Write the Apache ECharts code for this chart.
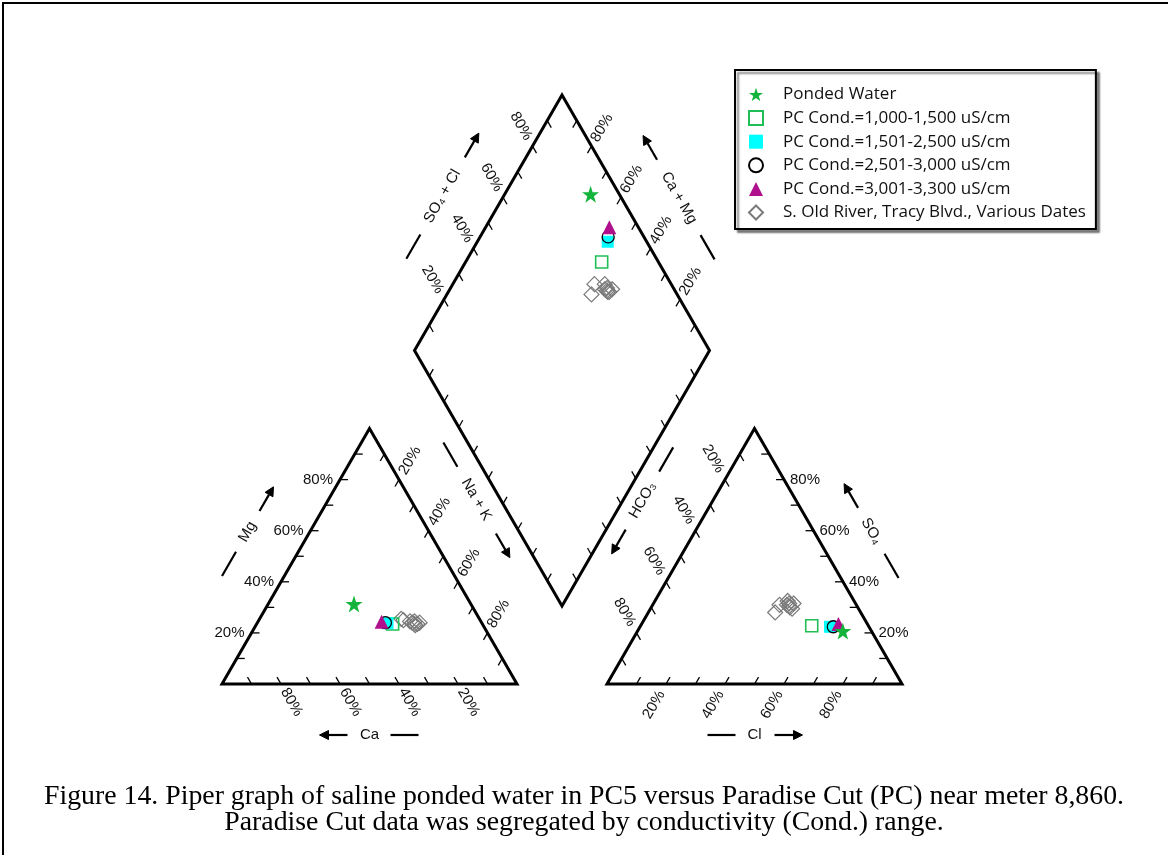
<!DOCTYPE html>
<html>
<head>
<meta charset="utf-8">
<title>Piper graph</title>
<script src="https://cdn.jsdelivr.net/npm/echarts@6/dist/echarts.min.js"></script>
<style>
  html, body { margin: 0; padding: 0; background: #fff; }
  #chart { width: 1168px; height: 855px; }
</style>
</head>
<body>
<div id="chart"></div>
<script>
// ---- Data: each row is one sample, % meq/L
// [Ca, Mg, Na+K,  HCO3, SO4, Cl]
const pondedWater = [
  [39.6, 31.3, 29.1, 9.7, 20.7, 69.6]
];
const pcCond1000to1500 = [
  [30.4, 23.5, 46.1, 19.2, 22.8, 58.0]
];
const pcCond1501to2500 = [
  [32.0, 23.8, 44.2, 13.2, 22.4, 64.4]
];
const pcCond2501to3000 = [
  [32.6, 24.0, 43.4, 12.1, 22.4, 65.5]
];
const pcCond3001to3300 = [
  [33.7, 24.4, 41.9, 9.8, 23.5, 66.7]
];
const oldRiverTracy = [
  [23.5, 24.0, 52.5, 23.5, 31.0, 45.5],
  [22.5, 24.5, 53.0, 22.5, 31.5, 46.0],
  [23.0, 23.5, 53.5, 23.0, 30.5, 46.5],
  [23.0, 23.0, 54.0, 23.0, 30.0, 47.0],
  [26.0, 25.0, 49.0, 29.0, 28.0, 43.0],
  [26.5, 25.5, 48.0, 26.0, 31.0, 43.0],
  [21.0, 24.0, 55.0, 21.0, 31.5, 47.5],
  [22.0, 23.5, 54.5, 22.5, 29.5, 48.0],
  [24.0, 24.5, 51.5, 22.5, 32.5, 45.0]
];
const seriesNames = [
  'Ponded Water',
  'PC Cond.=1,000-1,500 uS/cm',
  'PC Cond.=1,501-2,500 uS/cm',
  'PC Cond.=2,501-3,000 uS/cm',
  'PC Cond.=3,001-3,300 uS/cm',
  'S. Old River, Tracy Blvd., Various Dates'
];
const tickValues = [20, 40, 60, 80];
const tickLabels = ['20%', '40%', '60%', '80%'];
const captionLines = [
  'Figure 14. Piper graph of saline ponded water in PC5 versus Paradise Cut (PC) near meter 8,860.',
  'Paradise Cut data was segregated by conductivity (Cond.) range.'
];

// ---- Piper layout (plot units = pixels on hidden 1:1 axes)
const SIDE = 295;
const S3 = Math.sqrt(3) / 2;
const HGT = SIDE * S3;
const CAT = [222, 684];            // Ca corner of cation triangle
const AN = [607, 684];             // HCO3 corner of anion triangle
const GAP = AN[0] - CAT[0] - SIDE;
const DB = [CAT[0] + SIDE + GAP / 2, CAT[1] - GAP * S3]; // diamond bottom corner

const cA = CAT, cB = [CAT[0] + SIDE, CAT[1]], cC = [CAT[0] + SIDE / 2, CAT[1] - HGT];
const aD = AN, aE = [AN[0] + SIDE, AN[1]], aF = [AN[0] + SIDE / 2, AN[1] - HGT];
const dBm = DB, dL = [DB[0] - SIDE / 2, DB[1] - HGT], dR = [DB[0] + SIDE / 2, DB[1] - HGT], dT = [DB[0], DB[1] - 2 * HGT];

const UR = [0.5, -S3], UL = [-0.5, -S3], DR = [0.5, S3], DL = [-0.5, S3];

function lerp(p, q, t) { return [p[0] + (q[0] - p[0]) * t, p[1] + (q[1] - p[1]) * t]; }

function cationPt(r) {
  const s = r[0] + r[1] + r[2];
  return [CAT[0] + (r[2] + r[1] / 2) / s * SIDE, CAT[1] - r[1] / s * HGT];
}
function anionPt(r) {
  const s = r[3] + r[4] + r[5];
  return [AN[0] + (r[5] + r[4] / 2) / s * SIDE, AN[1] - r[4] / s * HGT];
}
function diamondPt(r) {
  const c = (r[0] + r[1]) / (r[0] + r[1] + r[2]);   // Ca+Mg fraction
  const a = (r[4] + r[5]) / (r[3] + r[4] + r[5]);   // SO4+Cl fraction
  return [DB[0] + (a - c) * SIDE / 2, DB[1] - (a + c) * HGT];
}
function project(rows) {
  const out = [];
  rows.forEach(r => { out.push(cationPt(r)); out.push(anionPt(r)); out.push(diamondPt(r)); });
  return out;
}

// Edge scales: 0% at "from", 100% at "to"; ticks drawn inward along grid direction
const edges = [
  { from: cA, to: cC, tick: [1, 0], label: { h: 'right', off: 7 } },             // Mg
  { from: cB, to: cA, tick: UL, label: { out: DR, dist: 21, rot: -60 } },        // Ca
  { from: cC, to: cB, tick: DL, label: { out: UR, dist: 22, rot: 60 } },         // Na+K
  { from: aF, to: aD, tick: DR, label: { out: UL, dist: 24, rot: -60 } },        // HCO3
  { from: aD, to: aE, tick: UR, label: { out: DL, dist: 24, rot: 60 } },         // Cl
  { from: aE, to: aF, tick: [-1, 0], label: { h: 'left', off: 6 } },             // SO4
  { from: dL, to: dT, tick: DR, label: { out: UL, dist: 23, rot: -60 } },        // SO4+Cl
  { from: dR, to: dT, tick: DL, label: { out: UR, dist: 21, rot: 60 } },         // Ca+Mg
  { from: dL, to: dBm, tick: UR },
  { from: dR, to: dBm, tick: UL }
];

const axisTitles = [
  { text: 'Mg', base: lerp(cA, cC, 0.49), n: [-S3, -0.5], dist: 54, d: UR, rot: 60, reach: 37 },
  { text: 'Ca', base: lerp(cA, cB, 0.5), n: [0, 1], dist: 51, d: [-1, 0], rot: 0, reach: 35 },
  { text: 'Na + K', base: lerp(cC, cB, 0.39), n: [S3, -0.5], dist: 57, d: DR, rot: -60, reach: 52 },
  { text: 'HCO\u2083', base: lerp(aF, aD, 0.4), n: [-S3, -0.5], dist: 61, d: DL, rot: 60, reach: 47 },
  { text: 'SO\u2084', base: lerp(aE, aF, 0.5), n: [S3, -0.5], dist: 50, d: UL, rot: -60, reach: 40 },
  { text: 'Cl', base: lerp(aD, aE, 0.5), n: [0, 1], dist: 51, d: [1, 0], rot: 0, reach: 33 },
  { text: 'SO\u2084 + Cl', base: lerp(dL, dT, 0.5), n: [-S3, -0.5], dist: 53, d: UR, rot: 60, reach: 58 },
  { text: 'Ca + Mg', base: lerp(dR, dT, 0.5), n: [S3, -0.5], dist: 50, d: UL, rot: -60, reach: 57 }
];

const FONT = 'Liberation Sans, Arial, sans-serif';

function renderFrame(params, api) {
  const P = p => api.coord(p);
  const kids = [];
  const seg = (a, b, w) => kids.push({
    type: 'line', shape: { x1: a[0], y1: a[1], x2: b[0], y2: b[1] },
    style: { stroke: '#000', lineWidth: w, lineCap: 'butt' }
  });
  // outlines
  [[cA, cB, cC], [aD, aE, aF], [dBm, dR, dT, dL]].forEach(poly => kids.push({
    type: 'polygon', shape: { points: poly.map(P) },
    style: { fill: 'none', stroke: '#000', lineWidth: 3, lineJoin: 'miter' }
  }));
  // ticks and tick labels
  edges.forEach(e => {
    for (let k = 1; k <= 9; k++) {
      const p = P(lerp(e.from, e.to, k / 10));
      seg(p, [p[0] + e.tick[0] * 8, p[1] + e.tick[1] * 8], 1.3);
    }
    if (!e.label) return;
    tickValues.forEach((v, i) => {
      const p = P(lerp(e.from, e.to, v / 100));
      const L = e.label;
      if (L.h) {
        kids.push({
          type: 'text',
          x: p[0] + (L.h === 'right' ? -L.off : L.off), y: p[1],
          style: { text: tickLabels[i], fontFamily: FONT, fontSize: 15, fill: '#111',
                   align: L.h, verticalAlign: 'middle' }
        });
      } else {
        kids.push({
          type: 'text',
          x: p[0] + L.out[0] * L.dist, y: p[1] + L.out[1] * L.dist,
          rotation: L.rot * Math.PI / 180,
          style: { text: tickLabels[i], fontFamily: FONT, fontSize: 15, fill: '#111',
                   align: 'center', verticalAlign: 'middle' }
        });
      }
    });
  });
  // axis titles with dash and direction arrow
  axisTitles.forEach(t => {
    const b = P(t.base);
    const c = [b[0] + t.n[0] * t.dist, b[1] + t.n[1] * t.dist];
    const at = s => [c[0] + t.d[0] * s, c[1] + t.d[1] * s];
    kids.push({
      type: 'text', x: c[0], y: c[1], rotation: t.rot * Math.PI / 180,
      style: { text: t.text, fontFamily: FONT, fontSize: 15, fill: '#111',
               align: 'center', verticalAlign: 'middle' }
    });
    seg(at(-t.reach - 14), at(-t.reach + 14), 2.2);
    const tip = at(t.reach + 15);
    const baseC = at(t.reach + 6);
    seg(at(t.reach - 13), baseC, 2.2);
    const nx = -t.d[1], ny = t.d[0];
    kids.push({
      type: 'polygon',
      shape: { points: [tip, [baseC[0] + nx * 4.5, baseC[1] + ny * 4.5], [baseC[0] - nx * 4.5, baseC[1] - ny * 4.5]] },
      style: { fill: '#000', stroke: '#000', lineWidth: 1 }
    });
  });
  return { type: 'group', children: kids };
}

const STAR = 'path://M50,2 L61.5,36 L97.5,36 L68.5,57.5 L79.5,92 L50,71 L20.5,92 L31.5,57.5 L2.5,36 L38.5,36 Z';

const groups = [
  { name: seriesNames[5], rows: oldRiverTracy, symbol: 'diamond', size: 15,
    style: { color: 'rgba(255,255,255,0)', borderColor: '#7a7a7a', borderWidth: 1.2, opacity: 1 } },
  { name: seriesNames[1], rows: pcCond1000to1500, symbol: 'rect', size: 12,
    style: { color: 'rgba(255,255,255,0)', borderColor: '#1fbf55', borderWidth: 1.6, opacity: 1 } },
  { name: seriesNames[2], rows: pcCond1501to2500, symbol: 'rect', size: 12,
    style: { color: '#00ffff', opacity: 1 } },
  { name: seriesNames[3], rows: pcCond2501to3000, symbol: 'circle', size: 12,
    style: { color: 'rgba(255,255,255,0)', borderColor: '#000', borderWidth: 1.3, opacity: 1 } },
  { name: seriesNames[4], rows: pcCond3001to3300, symbol: 'triangle', size: 14,
    style: { color: '#b0108c', opacity: 1 } },
  { name: seriesNames[0], rows: pondedWater, symbol: STAR, size: 17,
    style: { color: '#14b43c', opacity: 1 } }
];

const chart = echarts.init(document.getElementById('chart'), null, { renderer: 'canvas' });
chart.setOption({
  animation: false,
  backgroundColor: '#fff',
  grid: { left: 0, right: 0, top: 0, bottom: 0 },
  xAxis: { type: 'value', min: 0, max: 1168, show: false },
  yAxis: { type: 'value', min: 0, max: 855, inverse: true, show: false },
  title: {
    text: captionLines.join('\n'),
    left: 'center', top: 779,
    textStyle: { fontFamily: 'Liberation Serif, Times New Roman, serif', fontSize: 27.8,
                 fontWeight: 'normal', color: '#000', lineHeight: 26 }
  },
  legend: {
    orient: 'vertical', left: 735, top: 70,
    data: seriesNames, selectedMode: false,
    itemWidth: 14, itemHeight: 14, itemGap: 6.6,
    padding: [16, 10, 8, 13],
    textStyle: { fontFamily: 'Open Sans, Liberation Sans, sans-serif', fontSize: 17, color: '#111',
                 lineHeight: 14, padding: [0, 0, 0, 15] },
    backgroundColor: '#fff', borderColor: '#000', borderWidth: 2,
    shadowColor: 'rgba(0,0,0,0.45)', shadowBlur: 2, shadowOffsetX: 3, shadowOffsetY: 3
  },
  graphic: [{
    type: 'rect', shape: { x: 3, y: 3, width: 1200, height: 900 },
    style: { fill: null, stroke: '#000', lineWidth: 2 }, silent: true, z: 100
  }],
  series: [{
    type: 'custom', name: 'frame', renderItem: renderFrame, data: [[0, 0]],
    clip: false, silent: true, z: 1
  }].concat(groups.map(g => ({
    type: 'scatter', name: g.name, data: project(g.rows),
    symbol: g.symbol, symbolSize: g.size, itemStyle: g.style, z: 3, silent: true
  })))
});
</script>
</body>
</html>
